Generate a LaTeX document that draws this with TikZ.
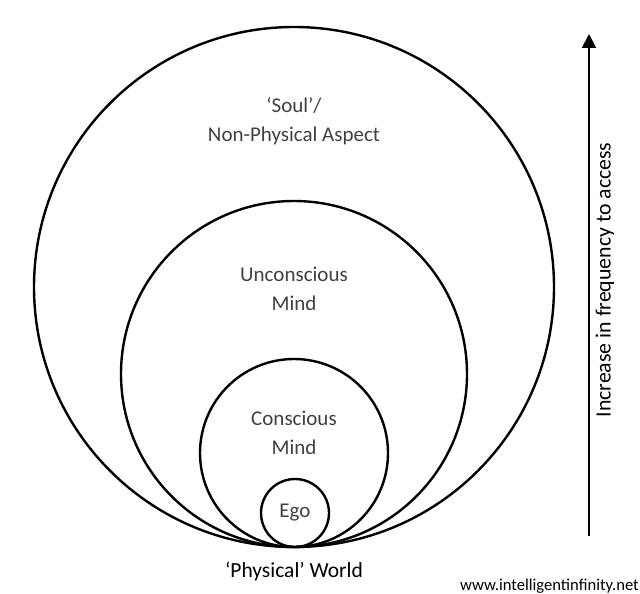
\documentclass[tikz,border=0pt]{standalone}
\usepackage{fontspec}
\setmainfont{Carlito}
\usetikzlibrary{arrows.meta}
\definecolor{labelgray}{HTML}{404040}
\begin{document}
\begin{tikzpicture}[x=1pt,y=-1pt,
  ring/.style={circle, draw=black, line width=2.4pt, inner sep=0pt, minimum size=#1},
  inlabel/.style={text=labelgray, font=\fontsize{21}{28.5}\selectfont, align=center, inner sep=0pt},
  outlabel/.style={text=black, font=\fontsize{21.5}{28.5}\selectfont, inner sep=0pt}]
\useasboundingbox (0,0) rectangle (640,594);
\node[ring=520pt] (soul) at (294,287) {};
\node[ring=346pt] (unc) at (294,374) {};
\node[ring=188pt] (con) at (294,453) {};
\node[ring=68pt, text=labelgray, font=\fontsize{21}{28.5}\selectfont] (ego) at (295,513) {Ego};
\node[inlabel] (soultxt) at (294,121) {‘Soul’/\\Non-Physical Aspect};
\node[inlabel] (unctxt) at (294,289) {Unconscious\\Mind};
\node[inlabel] (contxt) at (294,433) {Conscious\\Mind};
\node[outlabel] (phys) at (294,571) {‘Physical’ World};
\node[text=black, font=\fontsize{16.6}{20}\selectfont, anchor=east, inner sep=0pt] (www) at (639,586) {www.intelligentinfinity.net};
\coordinate (abot) at (589,536);
\coordinate (atop) at (589,34);
\draw[line width=2pt, -{Triangle[width=14pt,length=14pt]}] (abot) -- (atop);
\node[outlabel, font=\fontsize{21.8}{28.5}\selectfont, rotate=90] (freq) at (605,280) {Increase in frequency to access};
\end{tikzpicture}
\end{document}
